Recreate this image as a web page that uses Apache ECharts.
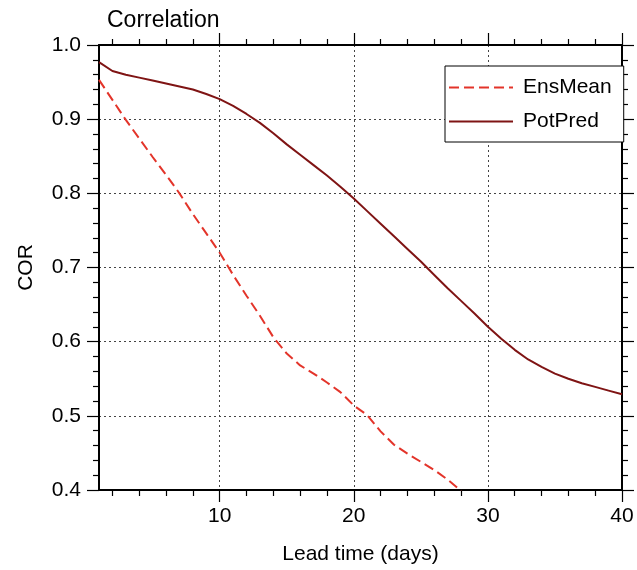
<!DOCTYPE html>
<html>
<head>
<meta charset="utf-8">
<script src="https://cdn.jsdelivr.net/npm/echarts@6/dist/echarts.min.js"></script>
<style>
  html, body { margin: 0; padding: 0; background: #fff; }
  #chart { width: 637px; height: 570px; }
</style>
</head>
<body>
<div id="chart"></div>
<script>
// lead time in days
const days = [1, 2, 3, 4, 5, 6, 7, 8, 9, 10,
              11, 12, 13, 14, 15, 16, 17, 18, 19, 20,
              21, 22, 23, 24, 25, 26, 27, 28, 29, 30,
              31, 32, 33, 34, 35, 36, 37, 38, 39, 40];
// ensemble mean correlation (drops under 0.4 after day 28)
const ensMean = [0.953, 0.926, 0.899, 0.874, 0.849, 0.825, 0.800, 0.772, 0.746, 0.720,
                 0.690, 0.662, 0.635, 0.606, 0.584, 0.568, 0.557, 0.545, 0.532, 0.514,
                 0.501, 0.479, 0.461, 0.449, 0.438, 0.427, 0.414, 0.399];
// potential predictability
const potPred = [0.977, 0.965, 0.960, 0.956, 0.952, 0.948, 0.944, 0.940, 0.934, 0.927,
                 0.918, 0.907, 0.895, 0.881, 0.866, 0.852, 0.838, 0.824, 0.809, 0.793,
                 0.776, 0.759, 0.742, 0.725, 0.708, 0.690, 0.672, 0.655, 0.638, 0.620,
                 0.604, 0.589, 0.576, 0.566, 0.557, 0.550, 0.544, 0.539, 0.534, 0.529];
const xMajor = [10, 20, 30, 40];
const xMinor = [2, 4, 6, 8, 12, 14, 16, 18, 22, 24, 26, 28, 32, 34, 36, 38];

const font = 'Liberation Sans';
const black = { color: '#000', width: 2 };
const tickStyle = { color: '#000', width: 1.2 };
const dotted = { type: [2, 3], color: '#444', width: 1 };

function pairs(vals) {
  return vals.map((v, i) => [days[i], v]);
}

function xAxisFor(pos, ticks, len, main) {
  return {
    type: 'value', position: pos, min: 1, max: 40,
    axisLine: { show: main, lineStyle: black },
    axisTick: { show: true, customValues: ticks, length: len, lineStyle: tickStyle },
    axisLabel: main && pos === 'bottom'
      ? { show: true, customValues: xMajor, fontSize: 21, color: '#000', margin: 16, fontFamily: font }
      : { show: false },
    splitLine: main && pos === 'bottom'
      ? { show: true, lineStyle: dotted }
      : { show: false },
    name: main && pos === 'bottom' ? 'Lead time (days)' : '',
    nameLocation: 'middle',
    nameGap: 54,
    nameTextStyle: { fontSize: 21, color: '#000', fontFamily: font }
  };
}

function yAxisFor(pos) {
  const left = pos === 'left';
  return {
    type: 'value', position: pos, min: 0.4, max: 1.0, interval: 0.1,
    axisLine: { show: true, lineStyle: black },
    axisTick: { show: true, length: 12, lineStyle: tickStyle },
    minorTick: { show: true, splitNumber: 5, length: 6, lineStyle: tickStyle },
    axisLabel: left
      ? { show: true, fontSize: 21, color: '#000', margin: 18, fontFamily: font,
          formatter: v => v.toFixed(1) }
      : { show: false },
    splitLine: left ? { show: true, lineStyle: dotted } : { show: false },
    name: left ? 'COR' : '',
    nameLocation: 'middle',
    nameGap: 62,
    nameTextStyle: { fontSize: 21, color: '#000', fontFamily: font }
  };
}

const option = {
  animation: false,
  backgroundColor: '#fff',
  title: {
    text: 'Correlation',
    left: 102, top: 4,
    textStyle: { fontSize: 23, fontWeight: 'normal', color: '#000', fontFamily: font }
  },
  grid: { left: 99, right: 15, top: 45, bottom: 78, containLabel: false },
  legend: {
    orient: 'vertical',
    left: 445, top: 66,
    padding: [11, 12, 10, 3],
    itemWidth: 64, itemHeight: 20, itemGap: 13,
    backgroundColor: '#fff',
    borderColor: '#000', borderWidth: 1,
    itemStyle: { opacity: 0 },
    textStyle: { fontSize: 21, color: '#000', fontFamily: font, padding: [0, 0, 0, 5] },
    data: ['EnsMean', 'PotPred']
  },
  xAxis: [
    xAxisFor('bottom', xMajor, 12, true),
    xAxisFor('bottom', xMinor, 6, false),
    xAxisFor('top', xMajor, 12, true),
    xAxisFor('top', xMinor, 6, false)
  ],
  yAxis: [yAxisFor('left'), yAxisFor('right')],
  series: [
    {
      name: 'EnsMean', type: 'line', symbol: 'none', clip: true,
      xAxisIndex: 0, yAxisIndex: 0,
      lineStyle: { color: '#e3342a', width: 2, type: [10, 5] },
      itemStyle: { color: '#e3342a' },
      data: pairs(ensMean)
    },
    {
      name: 'PotPred', type: 'line', symbol: 'none', clip: true,
      xAxisIndex: 0, yAxisIndex: 0,
      lineStyle: { color: '#7f1414', width: 2 },
      itemStyle: { color: '#7f1414' },
      data: pairs(potPred)
    }
  ]
};

const chart = echarts.init(document.getElementById('chart'));
chart.setOption(option);
</script>
</body>
</html>
